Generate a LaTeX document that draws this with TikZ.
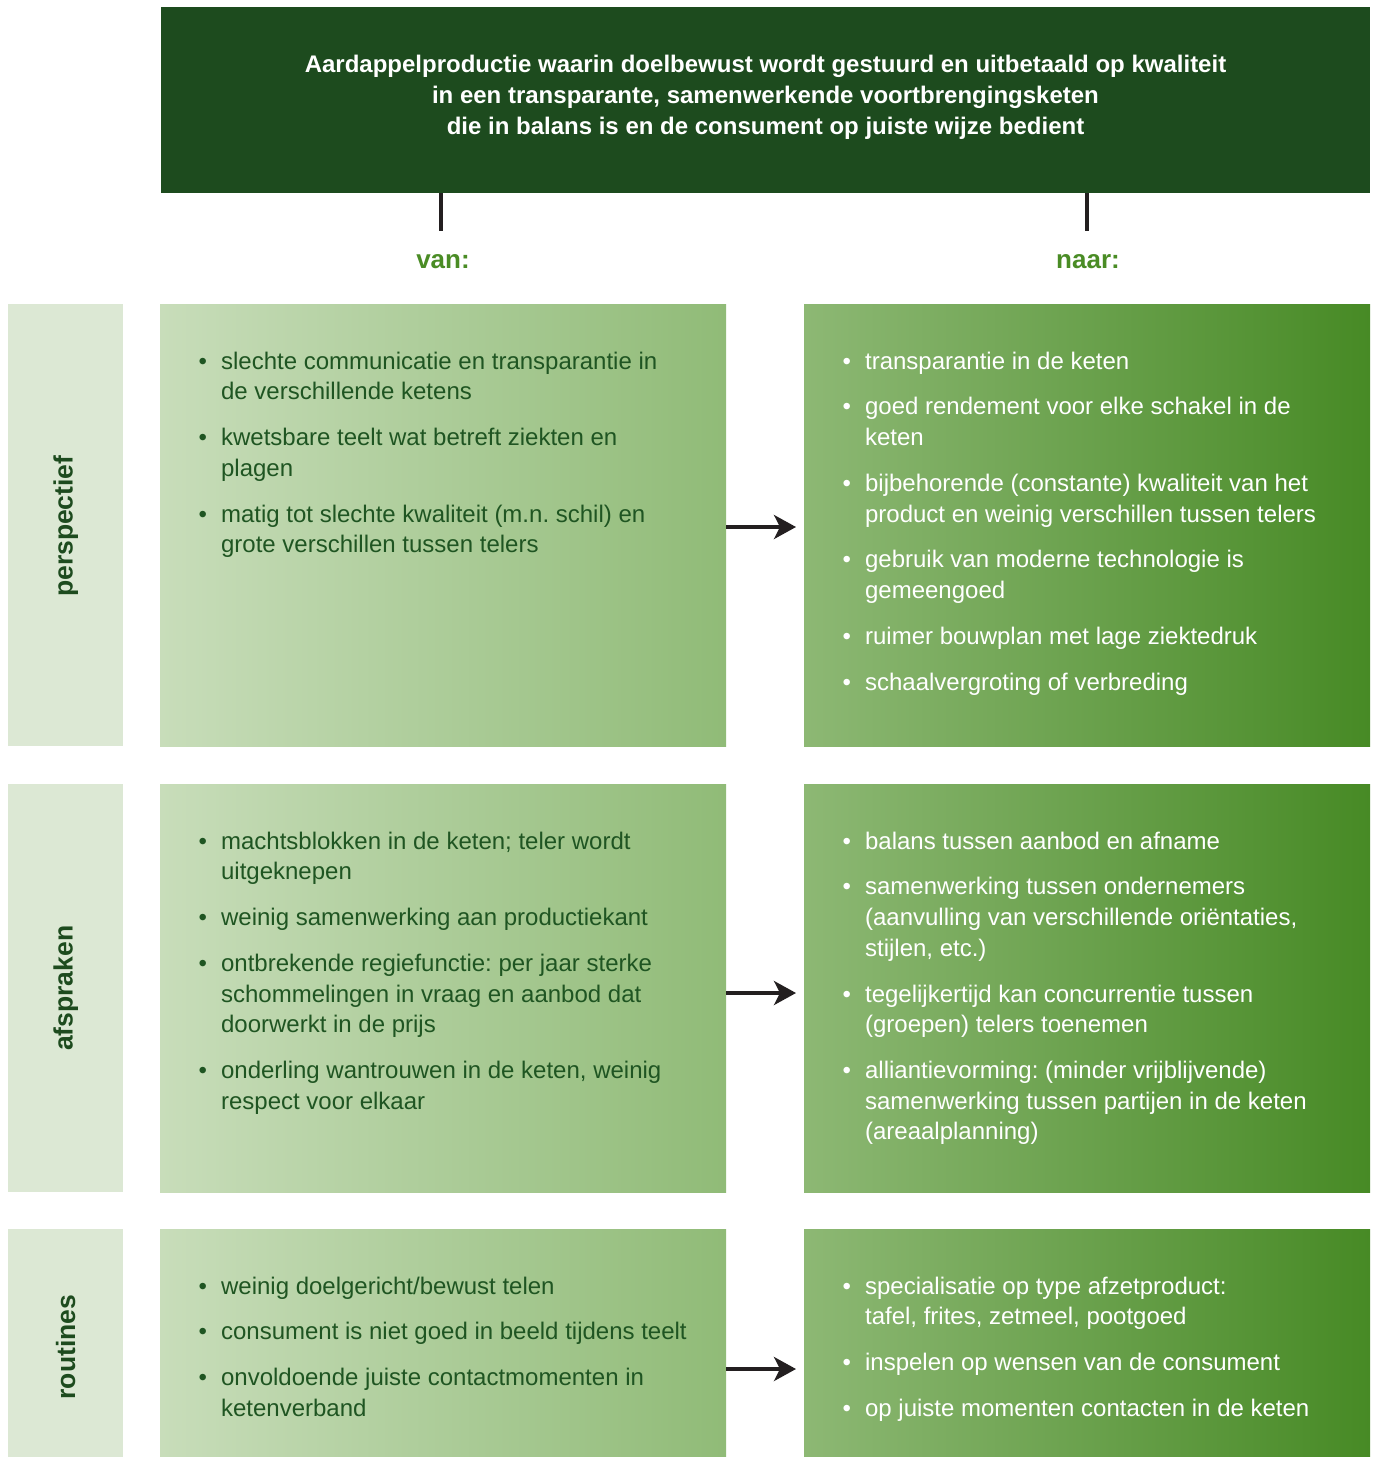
\documentclass[tikz,border=0pt]{standalone}
\usepackage{fontspec}
\setmainfont{Liberation Sans}
\usetikzlibrary{arrows.meta}
\frenchspacing
\definecolor{titlegreen}{HTML}{1D4B1E}
\definecolor{connblack}{HTML}{231F20}
\definecolor{headgreen}{HTML}{4A8C25}
\definecolor{sidebg}{HTML}{DCE8D4}
\definecolor{sidetext}{HTML}{1D4B1E}
\definecolor{lboxA}{HTML}{C8DDBA}
\definecolor{lboxB}{HTML}{90BB77}
\definecolor{rboxA}{HTML}{8DB874}
\definecolor{rboxB}{HTML}{478A25}
\definecolor{ltext}{HTML}{1F5522}
\newcommand{\bodyfont}{\fontsize{24}{30.6}\selectfont\frenchspacing}
\newcommand{\bul}{\textbullet}
\newcommand{\igap}{\\[15.3pt]}
\tikzset{
  sidebox/.style={fill=sidebg, draw=none},
  leftbox/.style={left color=lboxA, right color=lboxB, draw=none},
  rightbox/.style={left color=rboxA, right color=rboxB, draw=none},
  sidelabel/.style={rotate=90, font=\fontsize{26.5}{30}\selectfont\bfseries, text=sidetext, inner sep=0pt},
  leftlist/.style={anchor=base west, inner sep=0pt, text=ltext, font=\bodyfont},
  rightlist/.style={anchor=base west, inner sep=0pt, text=white, font=\bodyfont},
  headlabel/.style={font=\fontsize{26}{30}\selectfont\bfseries, text=headgreen, inner sep=0pt},
  stem/.style={draw=connblack, line width=4pt},
  flowarrow/.style={draw=connblack, line width=3.6pt, -{Stealth[length=22pt,width=24pt,inset=6pt]}, shorten >=8pt},
}
\begin{document}
\begin{tikzpicture}[x=1pt,y=-1pt]
\useasboundingbox (0,0) rectangle (1375,1457);
% title
\node[fill=titlegreen, minimum width=1209pt, minimum height=186pt, inner sep=0pt, anchor=north west] (title) at (161,7) {};
\node[text=white, font=\fontsize{24}{31}\selectfont\bfseries\frenchspacing, align=center, inner sep=0pt] (titletext) at (765.5,97)
 {Aardappelproductie waarin doelbewust wordt gestuurd en uitbetaald op kwaliteit\\
  in een transparante, samenwerkende voortbrengingsketen\\
  die in balans is en de consument op juiste wijze bedient};
\coordinate (stemL) at (441,231);
\coordinate (stemR) at (1087,231);
\draw[stem] (title.south -| stemL) -- (stemL);
\draw[stem] (title.south -| stemR) -- (stemR);
\node[headlabel] (van) at (443,262) {van:};
\node[headlabel] (naar) at (1088,262) {naar:};

% side boxes
\node[sidebox, minimum width=115pt, minimum height=442pt, inner sep=0pt, anchor=north west] (s1) at (8,304) {};
\node[sidebox, minimum width=115pt, minimum height=408pt, inner sep=0pt, anchor=north west] (s2) at (8,784) {};
\node[sidebox, minimum width=115pt, minimum height=228pt, inner sep=0pt, anchor=north west] (s3) at (8,1229) {};
\node[sidelabel] (s1t) at ([yshift=-1pt]s1.center) {perspectief};
\node[sidelabel] (s2t) at (s2.center) {afspraken};
\node[sidelabel] (s3t) at ([yshift=-4pt]s3.center) {routines};

% left boxes
\node[leftbox, minimum width=566pt, minimum height=442pt, inner sep=0pt, anchor=north west] (l1) at (160,304) {};
\node[leftbox, minimum width=566pt, minimum height=408pt, inner sep=0pt, anchor=north west] (l2) at (160,784) {};
\node[leftbox, minimum width=566pt, minimum height=228pt, inner sep=0pt, anchor=north west] (l3) at (160,1229) {};
% right boxes
\node[rightbox, minimum width=566pt, minimum height=442pt, inner sep=0pt, anchor=north west] (r1) at (804,304) {};
\node[rightbox, minimum width=566pt, minimum height=408pt, inner sep=0pt, anchor=north west] (r2) at (804,784) {};
\node[rightbox, minimum width=566pt, minimum height=228pt, inner sep=0pt, anchor=north west] (r3) at (804,1229) {};

% lists
\node[leftlist] (l1t) at (198.5,369) {\begin{tabular}[t]{@{}l@{\hspace{14pt}}l@{}}
\bul & slechte communicatie en transparantie in\\
 & de verschillende ketens\igap
\bul & kwetsbare teelt wat betreft ziekten en\\
 & plagen\igap
\bul & matig tot slechte kwaliteit (m.n. schil) en\\
 & grote verschillen tussen telers
\end{tabular}};
\node[rightlist] (r1t) at (842.5,369) {\begin{tabular}[t]{@{}l@{\hspace{14pt}}l@{}}
\bul & transparantie in de keten\igap
\bul & goed rendement voor elke schakel in de\\
 & keten\igap
\bul & bijbehorende (constante) kwaliteit van het\\
 & product en weinig verschillen tussen telers\igap
\bul & gebruik van moderne technologie is\\
 & gemeengoed\igap
\bul & ruimer bouwplan met lage ziektedruk\igap
\bul & schaalvergroting of verbreding
\end{tabular}};
\node[leftlist] (l2t) at (198.5,849) {\begin{tabular}[t]{@{}l@{\hspace{14pt}}l@{}}
\bul & machtsblokken in de keten; teler wordt\\
 & uitgeknepen\igap
\bul & weinig samenwerking aan productiekant\igap
\bul & ontbrekende regiefunctie: per jaar sterke\\
 & schommelingen in vraag en aanbod dat\\
 & doorwerkt in de prijs\igap
\bul & onderling wantrouwen in de keten, weinig\\
 & respect voor elkaar
\end{tabular}};
\node[rightlist] (r2t) at (842.5,849) {\begin{tabular}[t]{@{}l@{\hspace{14pt}}l@{}}
\bul & balans tussen aanbod en afname\igap
\bul & samenwerking tussen ondernemers\\
 & (aanvulling van verschillende oriëntaties,\\
 & stijlen, etc.)\igap
\bul & tegelijkertijd kan concurrentie tussen\\
 & (groepen) telers toenemen\igap
\bul & alliantievorming: (minder vrijblijvende)\\
 & samenwerking tussen partijen in de keten\\
 & (areaalplanning)
\end{tabular}};
\node[leftlist] (l3t) at (198.5,1294) {\begin{tabular}[t]{@{}l@{\hspace{14pt}}l@{}}
\bul & weinig doelgericht/bewust telen\igap
\bul & consument is niet goed in beeld tijdens teelt\igap
\bul & onvoldoende juiste contactmomenten in\\
 & ketenverband
\end{tabular}};
\node[rightlist] (r3t) at (842.5,1294) {\begin{tabular}[t]{@{}l@{\hspace{14pt}}l@{}}
\bul & specialisatie op type afzetproduct:\\
 & tafel, frites, zetmeel, pootgoed\igap
\bul & inspelen op wensen van de consument\igap
\bul & op juiste momenten contacten in de keten
\end{tabular}};

% arrows
\draw[flowarrow] (l1.east |- 0,527) -- (r1.west |- 0,527);
\draw[flowarrow] (l2.east |- 0,993) -- (r2.west |- 0,993);
\draw[flowarrow] (l3.east |- 0,1369) -- (r3.west |- 0,1369);
\end{tikzpicture}
\end{document}
